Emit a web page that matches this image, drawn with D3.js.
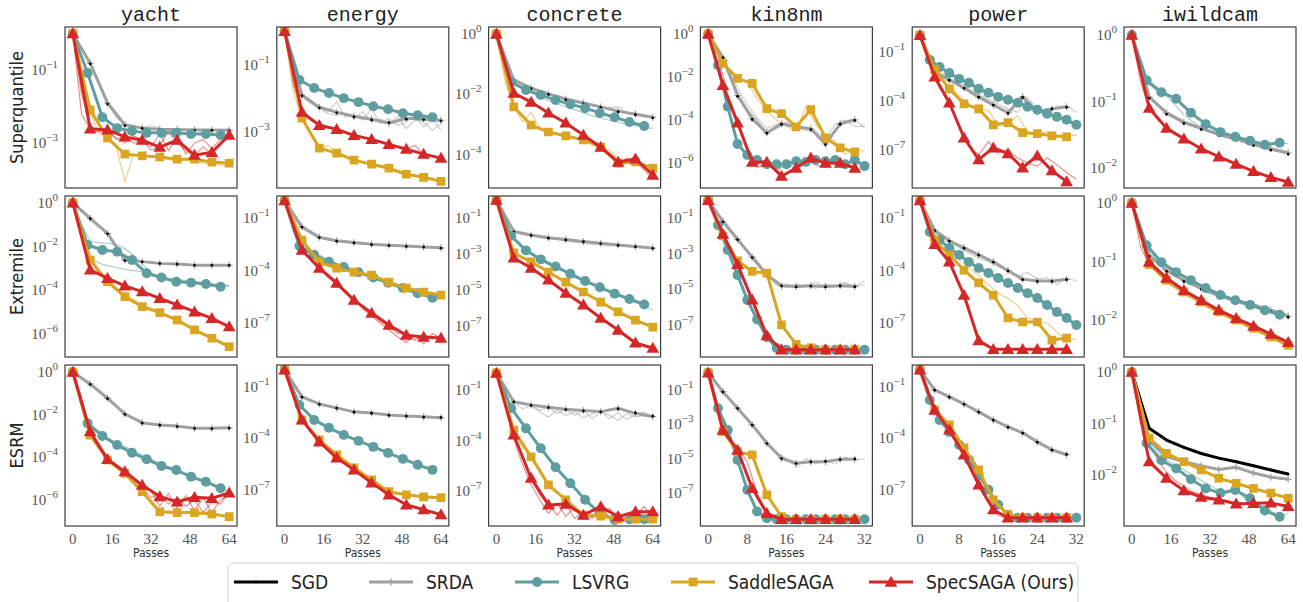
<!DOCTYPE html>
<html>
<head>
<meta charset="utf-8">
<script src="https://cdn.jsdelivr.net/npm/d3@7"></script>
<style>
  body { margin: 0; background: #fff; }
  svg { display: block; }
</style>
</head>
<body>
<svg id="chart" width="1303" height="602"></svg>
<script>
// --- Datos ---
const datasets = ['yacht', 'energy', 'concrete', 'kin8nm', 'power', 'iwildcam'];
const objectives = ['Superquantile', 'Extremile', 'ESRM'];
const methodNames = ['SGD', 'SRDA', 'LSVRG', 'SaddleSAGA', 'SpecSAGA (Ours)'];
const methodColors = ['#000000', '#a0a0a0', '#5f9ea0', '#daa520', '#d62728'];
const maxPasses = [64, 64, 64, 32, 32, 64];
const xTicksLong = [0, 16, 32, 48, 64];
const xTicksShort = [0, 8, 16, 24, 32];

// passes at which each method was logged (markers)
const passesLong = [0, 7.1, 14.2, 21.3, 28.4, 35.6, 42.7, 49.8, 56.9, 64];
const passesLongLsvrg = [0, 6.05, 12.1, 18.15, 24.2, 30.25, 36.3, 42.35, 48.4, 54.45, 60.5];
const passesShort = [0, 3, 6, 9, 12, 15, 18, 21, 24, 27, 30];
const passesShortLsvrg = [0, 2, 4, 6, 8, 10, 12, 14, 16, 18, 20, 22, 24, 26, 28, 30, 32];
// passes of the individual seed runs (thin lines)
const passesSeedLong = [0, 3.55, 7.1, 10.65, 14.2, 17.75, 21.3, 24.85, 28.4, 32, 35.6, 39.15, 42.7, 46.25, 49.8, 53.35, 56.9, 60.45, 64];
const passesSeedShort = passesShortLsvrg;

// y axis: tick exponents and limits (log10), per objective then dataset
const yTicks = [
  [[-1, -3], [-1, -3], [0, -2, -4], [0, -2, -4, -6], [-1, -4, -7], [0, -1, -2]],
  [[0, -2, -4, -6], [-1, -4, -7], [-1, -3, -5, -7], [-1, -3, -5, -7], [-1, -4, -7], [0, -1, -2]],
  [[0, -2, -4, -6], [-1, -4, -7], [-1, -4, -7], [-1, -3, -5, -7], [-1, -4, -7], [0, -1, -2]]
];
const yLimits = [
  [[-4.23, 0.18], [-4.67, 0.13], [-5.09, 0.23], [-7.17, 0.33], [-9.33, 0.51], [-2.3, 0.12]],
  [[-7.05, 0.31], [-8.94, 0.26], [-8.72, 0.22], [-8.81, 0.24], [-8.94, 0.26], [-2.63, 0.12]],
  [[-7.23, 0.33], [-9.1, 0.28], [-9.05, 0.48], [-8.91, 0.45], [-9.1, 0.28], [-2.99, 0.14]]
];

// log10 of the suboptimality, one list per dataset (averaged runs)
// Superquantile
const sqSRDA = [
  [0, -0.81, -1.9, -2.5, -2.59, -2.62, -2.63, -2.64, -2.64, -2.65],
  [0, -1.9, -2.26, -2.41, -2.53, -2.62, -2.74, -2.59, -2.62, -2.65],
  [0, -1.52, -1.79, -1.98, -2.15, -2.28, -2.41, -2.55, -2.65, -2.75],
  [0, -1.08, -2.86, -3.94, -4.6, -4.18, -4.32, -4.41, -5.12, -4.18, -3.99],
  [0, -2.23, -2.72, -3.21, -3.76, -4.25, -4.73, -3.76, -4.67, -4.49, -4.37],
  [0, -0.93, -1.17, -1.31, -1.4, -1.49, -1.56, -1.64, -1.71, -1.77]
];
const sqSGD = [
  [0, -0.83, -1.93, -2.52, -2.6, -2.63, -2.63, -2.65, -2.65, -2.66],
  [0, -1.92, -2.28, -2.43, -2.55, -2.64, -2.72, -2.62, -2.63, -2.67],
  [0, -1.54, -1.81, -2.0, -2.17, -2.3, -2.43, -2.57, -2.67, -2.77],
  [0, -1.1, -2.9, -3.98, -4.62, -4.2, -4.34, -4.45, -5.15, -4.2, -4.02],
  [0, -2.25, -2.74, -3.24, -3.78, -4.27, -4.76, -3.8, -4.7, -4.5, -4.4],
  [0, -0.95, -1.19, -1.33, -1.42, -1.51, -1.58, -1.66, -1.73, -1.79]
];
const sqLSVRG = [
  [0, -1.08, -2.29, -2.59, -2.67, -2.72, -2.72, -2.72, -2.75, -2.75, -2.78],
  [0, -1.45, -1.69, -1.84, -1.99, -2.11, -2.23, -2.32, -2.44, -2.5, -2.56],
  [0, -1.59, -1.85, -2.02, -2.18, -2.32, -2.45, -2.61, -2.75, -2.91, -3.04],
  [0, -1.45, -3.38, -5.12, -5.63, -5.87, -6.06, -6.06, -6.06, -5.92, -5.96, -5.87, -5.92, -5.87, -6.06, -5.87, -6.15],
  [0, -1.5, -1.93, -2.3, -2.66, -2.9, -3.27, -3.51, -3.76, -3.94, -4.12, -4.37, -4.55, -4.79, -4.98, -5.16, -5.47],
  [0, -0.68, -0.86, -0.96, -1.17, -1.34, -1.46, -1.53, -1.59, -1.65, -1.62]
];
const sqSaddle = [
  [0, -2.09, -2.86, -3.3, -3.35, -3.38, -3.44, -3.44, -3.52, -3.55],
  [0, -2.59, -3.48, -3.63, -3.84, -3.96, -4.08, -4.26, -4.35, -4.47],
  [0, -2.41, -3.01, -3.24, -3.37, -3.5, -3.74, -4.27, -4.23, -4.43],
  [0, -1.36, -2.06, -2.3, -3.47, -3.71, -4.32, -3.52, -4.83, -5.3, -5.49],
  [0, -2.11, -3.27, -4.19, -4.49, -5.47, -5.34, -5.95, -6.01, -6.14, -6.2],
  null
];
const sqSpec = [
  [0, -2.61, -2.64, -2.83, -2.92, -3.11, -2.92, -3.33, -3.25, -2.78],
  [0, -2.41, -2.8, -2.92, -3.1, -3.22, -3.37, -3.51, -3.66, -3.78],
  [0, -1.95, -2.25, -2.61, -2.94, -3.34, -3.74, -4.23, -4.13, -4.66],
  [0, -2.39, -4.13, -5.96, -5.96, -6.62, -6.24, -5.77, -6.01, -6.01, -6.24],
  [0, -2.54, -4.12, -6.26, -7.6, -6.87, -7.23, -8.09, -7.36, -8.27, -8.94],
  [0, -1.1, -1.4, -1.56, -1.71, -1.83, -1.94, -2.05, -2.14, -2.21]
];

// Extremile
const exSRDA = [
  [0, -0.71, -1.4, -2.62, -2.69, -2.77, -2.8, -2.85, -2.85, -2.85],
  [0, -1.5, -2.1, -2.3, -2.4, -2.5, -2.55, -2.6, -2.65, -2.7],
  [0, -1.75, -1.95, -2.1, -2.2, -2.3, -2.4, -2.5, -2.58, -2.67],
  [0, -1.2, -2.2, -3.2, -4.2, -4.8, -4.85, -4.8, -4.85, -4.8, -4.85],
  [0, -1.7, -2.3, -2.7, -3.1, -3.5, -4.0, -4.5, -4.6, -4.6, -4.5],
  [0, -0.89, -1.15, -1.32, -1.45, -1.57, -1.66, -1.74, -1.83, -1.93]
];
const exSGD = [
  [0, -0.73, -1.42, -2.64, -2.7, -2.78, -2.81, -2.86, -2.86, -2.86],
  [0, -1.52, -2.12, -2.32, -2.42, -2.52, -2.57, -2.62, -2.66, -2.72],
  [0, -1.77, -1.97, -2.12, -2.22, -2.32, -2.42, -2.52, -2.6, -2.69],
  [0, -1.22, -2.22, -3.22, -4.22, -4.82, -4.87, -4.83, -4.87, -4.82, -4.86],
  [0, -1.72, -2.32, -2.72, -3.12, -3.52, -4.02, -4.52, -4.62, -4.62, -4.52],
  [0, -0.91, -1.17, -1.34, -1.47, -1.59, -1.68, -1.76, -1.85, -1.95]
];
const exLSVRG = [
  [0, -1.93, -2.16, -2.24, -2.62, -3.22, -3.42, -3.61, -3.65, -3.71, -3.84],
  [0, -2.6, -3.1, -3.5, -3.8, -4.1, -4.4, -4.7, -5.0, -5.3, -5.55],
  [0, -2.0, -2.8, -3.3, -3.7, -4.1, -4.5, -4.85, -5.2, -5.5, -5.8],
  [0, -1.4, -2.8, -4.2, -5.6, -6.7, -7.7, -8.3, -8.4, -8.4, -8.4, -8.4, -8.4, -8.4, -8.4, -8.4, -8.4],
  [0, -1.8, -2.26, -2.71, -3.11, -3.51, -3.86, -4.14, -4.43, -4.71, -5.0, -5.29, -5.57, -5.97, -6.37, -6.71, -7.11],
  [0, -0.72, -1.01, -1.18, -1.32, -1.45, -1.57, -1.66, -1.74, -1.83, -1.91]
];
const exSaddle = [
  [0, -2.62, -3.61, -4.29, -4.75, -5.02, -5.36, -5.81, -6.19, -6.58],
  [0, -2.26, -3.51, -3.86, -4.09, -4.26, -4.66, -5.0, -5.23, -5.4],
  [0, -2.94, -3.44, -4.0, -4.56, -5.11, -5.67, -6.22, -6.67, -7.06],
  [0, -2.0, -3.4, -4.0, -4.1, -7.0, -8.1, -8.3, -8.4, -8.4, -8.4],
  [0, -2.26, -3.11, -3.97, -4.71, -5.4, -6.71, -6.94, -6.94, -7.97, -7.86],
  [0, -1.05, -1.32, -1.52, -1.69, -1.86, -2.0, -2.14, -2.29, -2.43]
];
const exSpec = [
  [0, -3.07, -3.45, -3.8, -4.06, -4.37, -4.67, -4.98, -5.28, -5.66],
  [0, -2.83, -3.86, -4.71, -5.69, -6.43, -7.11, -7.69, -7.8, -7.86],
  [0, -3.22, -3.78, -4.44, -5.17, -5.83, -6.56, -7.22, -7.94, -8.22],
  [0, -1.9, -3.6, -5.6, -7.6, -8.4, -8.4, -8.4, -8.4, -8.4, -8.4],
  [0, -2.5, -3.5, -5.4, -8.0, -8.5, -8.5, -8.5, -8.5, -8.5, -8.5],
  [0, -1.01, -1.28, -1.49, -1.66, -1.83, -1.97, -2.1, -2.24, -2.38]
];

// ESRM
const esSRDA = [
  [0, -0.56, -1.23, -1.97, -2.38, -2.49, -2.54, -2.64, -2.64, -2.62],
  [0, -1.58, -1.99, -2.22, -2.45, -2.51, -2.63, -2.69, -2.74, -2.8],
  [0, -1.69, -1.89, -2.02, -2.14, -2.22, -2.28, -2.08, -2.38, -2.58],
  [0, -1.1, -2.06, -3.03, -4.1, -4.97, -5.26, -5.17, -5.17, -5.03, -5.03],
  [0, -1.17, -1.58, -1.99, -2.45, -2.92, -3.33, -3.67, -4.2, -4.66, -4.95],
  [0, -1.32, -1.64, -1.74, -1.82, -1.89, -1.85, -1.96, -2.04, -2.08]
];
const esSGD = [
  [0, -0.58, -1.25, -1.99, -2.4, -2.5, -2.56, -2.65, -2.66, -2.63],
  [0, -1.6, -2.01, -2.24, -2.47, -2.53, -2.65, -2.7, -2.76, -2.78],
  [0, -1.71, -1.91, -2.04, -2.16, -2.24, -2.3, -2.12, -2.36, -2.55],
  [0, -1.12, -2.08, -3.05, -4.12, -4.99, -5.28, -5.19, -5.15, -5.05, -5.01],
  [0, -1.19, -1.6, -2.01, -2.47, -2.94, -3.35, -3.69, -4.22, -4.68, -4.93],
  [0, -1.09, -1.32, -1.46, -1.58, -1.67, -1.74, -1.82, -1.9, -1.98]
];
const esLSVRG = [
  [0, -2.41, -3.0, -3.43, -3.79, -4.1, -4.41, -4.6, -4.92, -5.15, -5.46],
  [0, -2.05, -2.92, -3.38, -3.79, -4.14, -4.49, -4.84, -5.19, -5.53, -5.83],
  [0, -2.08, -3.27, -4.45, -5.57, -6.52, -7.5, -8.3, -8.69, -8.65, -8.65],
  [0, -2.06, -3.33, -5.07, -6.81, -8.07, -8.46, -8.52, -8.52, -8.52, -8.52, -8.52, -8.52, -8.52, -8.52, -8.52, -8.52],
  [0, -1.76, -2.92, -3.62, -4.37, -5.24, -6.12, -6.99, -7.86, -8.44, -8.62, -8.62, -8.62, -8.62, -8.62, -8.62, -8.62],
  [0, -1.38, -1.71, -1.87, -2.08, -2.26, -2.35, -2.29, -2.45, -2.69, -2.81]
];
const esSaddle = [
  [0, -2.96, -4.13, -4.76, -5.62, -6.56, -6.6, -6.6, -6.67, -6.79],
  [0, -2.92, -4.08, -4.95, -5.71, -6.41, -7.1, -7.28, -7.4, -7.45],
  [0, -3.37, -4.95, -6.62, -7.51, -8.4, -8.46, -8.65, -8.65, -8.65],
  [0, -3.42, -4.59, -4.78, -7.1, -8.37, -8.52, -8.52, -8.52, -8.52, -8.52],
  [0, -2.34, -3.21, -4.55, -5.83, -7.57, -8.44, -8.62, -8.62, -8.62, -8.62],
  [0, -1.28, -1.58, -1.74, -1.9, -2.06, -2.16, -2.26, -2.35, -2.45]
];
const esSpec = [
  [0, -2.8, -4.1, -4.68, -5.31, -5.85, -6.09, -5.88, -5.93, -5.67],
  [0, -2.92, -4.2, -5.13, -5.83, -6.58, -7.28, -7.86, -8.15, -8.44],
  [0, -3.66, -6.22, -7.8, -7.75, -8.4, -7.9, -8.5, -8.2, -8.2],
  [0, -3.33, -4.49, -6.72, -8.17, -8.52, -8.52, -8.52, -8.52, -8.52, -8.52],
  [0, -2.34, -3.5, -4.95, -6.7, -8.15, -8.62, -8.62, -8.62, -8.62, -8.62],
  [0, -1.74, -2.06, -2.3, -2.43, -2.48, -2.56, -2.55, -2.54, -2.61]
];

// individual seed runs: [dataset, method, log10 values]
const sqSeeds = [
  [0, 1, [0, -0.4, -0.8, -1.35, -1.9, -2.3, -2.5, -2.55, -2.58, -2.52, -2.6, -2.62, -2.6, -2.64, -2.6, -2.65, -2.63, -2.65, -2.6]],
  [0, 3, [0, -1.7, -2.2, -2.7, -2.9, -3.1, -4.05, -3.3, -3.35, -3.35, -3.4, -3.45, -3.5, -3.45, -3.5, -3.55, -3.55, -3.6, -3.65]],
  [0, 4, [0, -1.6, -2.6, -2.7, -2.65, -2.9, -2.8, -3.0, -2.95, -3.1, -2.75, -3.2, -2.85, -3.3, -3.0, -2.9, -3.15, -2.9, -2.8]],
  [0, 4, [0, -2.2, -2.62, -2.6, -2.7, -2.85, -3.0, -2.8, -2.9, -3.2, -3.05, -2.7, -3.0, -3.2, -3.35, -3.1, -3.3, -3.0, -2.75]],
  [1, 1, [0, -1.4, -1.85, -2.1, -2.25, -2.4, -2.1, -2.55, -2.5, -2.65, -2.3, -2.75, -2.6, -2.8, -2.7, -2.5, -2.85, -2.6, -2.95]],
  [1, 1, [0, -1.5, -1.95, -2.15, -2.3, -2.45, -2.5, -2.45, -2.6, -2.4, -2.7, -2.6, -2.75, -2.55, -2.9, -2.65, -2.7, -2.95, -2.75]],
  [1, 3, [0, -1.8, -2.6, -3.1, -3.5, -3.4, -3.6, -3.7, -3.85, -3.9, -3.95, -4.05, -4.1, -4.2, -4.25, -4.3, -4.35, -4.4, -4.45]],
  [1, 4, [0, -1.6, -2.4, -2.65, -2.8, -2.85, -2.93, -3.0, -3.1, -3.15, -3.22, -3.3, -3.37, -3.45, -3.5, -3.4, -3.66, -3.7, -3.8]],
  [2, 1, [0, -1.1, -1.52, -1.7, -1.8, -1.9, -1.98, -2.08, -2.15, -2.22, -2.28, -2.35, -2.4, -2.45, -2.4, -2.6, -2.62, -2.7, -2.8]],
  [2, 2, [0, -1.2, -1.6, -1.8, -1.95, -2.1, -2.2, -2.32, -2.4, -2.5, -2.6, -2.7, -2.78, -2.85, -2.92, -2.98, -3.03, -3.08, -3.12]],
  [2, 3, [0, -1.6, -2.4, -2.9, -2.6, -3.1, -3.2, -3.3, -3.35, -3.4, -3.5, -3.6, -3.7, -3.85, -4.1, -4.25, -4.2, -4.3, -4.4]],
  [2, 4, [0, -1.2, -1.95, -2.1, -2.25, -2.45, -2.6, -2.8, -2.95, -3.15, -3.35, -3.55, -3.75, -4.0, -4.3, -4.1, -4.2, -4.5, -4.8]],
  [3, 1, [0, -0.8, -1.6, -2.5, -3.3, -3.9, -4.4, -4.2, -4.1, -4.4, -4.4, -4.5, -4.9, -4.2, -4.0, -4.3, -4.3]],
  [3, 1, [0, -0.9, -1.8, -2.7, -3.5, -4.0, -4.6, -4.4, -4.2, -4.3, -4.5, -4.6, -5.0, -4.5, -4.1, -4.0, -4.35]],
  [3, 3, [0, -0.9, -1.7, -2.1, -2.25, -3.0, -3.6, -4.0, -4.3, -4.5, -3.4, -4.2, -4.7, -5.0, -5.6, -5.4, -5.45]],
  [3, 4, [0, -1.0, -2.8, -4.0, -5.4, -6.2, -6.0, -6.4, -6.0, -6.3, -5.8, -6.1, -6.2, -5.9, -6.1, -6.3, -6.3]],
  [4, 1, [0, -1.6, -2.3, -2.7, -3.0, -3.3, -3.6, -3.9, -4.2, -4.5, -4.7, -3.8, -4.5, -4.7, -4.4, -4.3, -4.7]],
  [4, 3, [0, -1.3, -2.0, -3.0, -3.7, -4.2, -4.5, -4.6, -5.5, -5.4, -4.9, -5.9, -6.0, -5.9, -6.1, -6.2, -6.1]],
  [4, 4, [0, -1.8, -3.2, -4.2, -5.5, -6.8, -7.3, -6.5, -7.2, -7.0, -7.5, -7.8, -8.0, -7.5, -7.9, -8.4, -8.8]],
  [5, 2, [0, -0.55, -0.75, -0.85, -0.92, -1.05, -1.2, -1.3, -1.4, -1.46, -1.5, -1.54, -1.57, -1.6, -1.62, -1.64, -1.64, -1.63, -1.63]],
  [5, 4, [0, -0.7, -1.1, -1.28, -1.4, -1.5, -1.56, -1.63, -1.71, -1.77, -1.83, -1.88, -1.94, -2.0, -2.05, -2.1, -2.14, -2.18, -2.21]]
];
const exSeeds = [
  [0, 2, [0, -1.0, -1.75, -1.82, -1.85, -1.9, -2.1, -2.4, -2.8, -3.2, -3.4, -3.5, -3.55, -3.6, -3.65, -3.7, -3.75, -3.78, -3.8]],
  [0, 2, [0, -1.5, -2.5, -2.75, -2.88, -2.95, -3.05, -3.1, -3.15, -3.25, -3.35, -3.45, -3.5, -3.55, -3.6, -3.65, -3.7, -3.75, -3.8]],
  [0, 3, [0, -1.5, -2.3, -3.1, -3.4, -3.9, -4.2, -4.4, -4.7, -4.8, -5.0, -5.2, -5.35, -5.6, -5.8, -6.0, -6.2, -6.4, -6.65]],
  [0, 4, [0, -1.2, -2.6, -3.2, -3.4, -3.6, -3.8, -3.95, -4.1, -4.25, -4.4, -4.55, -4.7, -4.85, -5.0, -5.15, -5.3, -5.5, -5.7]],
  [1, 1, [0, -1.0, -1.6, -1.9, -2.15, -2.25, -2.35, -2.4, -2.45, -2.5, -2.45, -2.55, -2.6, -2.55, -2.65, -2.6, -2.7, -2.65, -2.75]],
  [1, 2, [0, -1.8, -2.6, -2.9, -3.1, -3.4, -3.6, -3.8, -4.0, -4.2, -4.3, -4.5, -4.7, -4.8, -5.0, -5.1, -5.2, -5.3, -5.5]],
  [1, 4, [0, -1.6, -2.8, -3.4, -3.9, -4.3, -4.7, -5.2, -5.7, -6.1, -6.5, -6.9, -7.2, -7.6, -7.5, -8.0, -7.6, -7.9, -7.7]],
  [1, 4, [0, -1.7, -2.9, -3.3, -3.8, -4.4, -4.8, -5.3, -5.6, -6.2, -6.6, -7.0, -7.4, -7.8, -8.1, -7.7, -8.2, -7.6, -7.9]],
  [2, 1, [0, -1.2, -1.8, -1.9, -2.0, -2.1, -2.15, -2.2, -2.3, -2.35, -2.4, -2.45, -2.5, -2.55, -2.5, -2.6, -2.62, -2.66, -2.7]],
  [2, 2, [0, -1.4, -2.1, -2.7, -3.0, -3.3, -3.6, -3.8, -4.0, -4.3, -4.5, -4.7, -4.9, -5.1, -5.3, -5.5, -5.7, -5.9, -6.1]],
  [3, 1, [0, -0.8, -1.5, -2.2, -2.9, -3.5, -4.2, -4.7, -4.9, -4.7, -4.85, -4.6, -4.9, -4.8, -4.7, -4.8, -4.75]],
  [3, 1, [0, -0.7, -1.4, -2.1, -2.8, -3.4, -4.1, -4.8, -4.7, -4.9, -4.75, -4.95, -4.7, -4.85, -4.6, -4.9, -4.5]],
  [3, 4, [0, -1.2, -2.4, -3.6, -5.0, -6.3, -7.5, -8.2, -8.4, -8.4, -8.4, -8.4, -8.4, -8.4, -8.4, -8.4, -8.4]],
  [4, 1, [0, -1.3, -1.9, -2.3, -2.7, -3.0, -3.3, -3.5, -3.8, -4.0, -4.3, -4.1, -4.5, -4.4, -4.8, -4.4, -4.6]],
  [4, 3, [0, -1.4, -2.2, -2.8, -3.3, -3.8, -4.3, -4.8, -5.3, -5.6, -6.0, -6.7, -6.9, -7.0, -7.5, -8.0, -7.9]],
  [5, 2, [0, -0.6, -0.8, -0.98, -1.1, -1.22, -1.32, -1.4, -1.48, -1.55, -1.6, -1.65, -1.7, -1.74, -1.78, -1.82, -1.86, -1.9, -1.93]],
  [5, 4, [0, -0.75, -1.05, -1.2, -1.35, -1.45, -1.55, -1.63, -1.72, -1.8, -1.88, -1.95, -2.02, -2.09, -2.16, -2.22, -2.28, -2.33, -2.38]]
];
const esSeeds = [
  [0, 1, [0, -0.3, -0.6, -0.9, -1.25, -1.6, -1.95, -2.2, -2.38, -2.45, -2.5, -2.52, -2.55, -2.6, -2.62, -2.64, -2.64, -2.63, -2.62]],
  [0, 2, [0, -1.5, -2.5, -2.8, -3.1, -3.3, -3.5, -3.7, -3.9, -4.1, -4.3, -4.45, -4.6, -4.8, -4.95, -5.1, -5.25, -5.45, -5.62]],
  [0, 4, [0, -1.5, -2.8, -3.4, -4.1, -4.4, -4.7, -5.0, -5.3, -5.6, -6.3, -5.7, -6.4, -5.8, -6.5, -5.9, -6.6, -6.0, -5.8]],
  [0, 4, [0, -1.6, -2.9, -3.5, -4.0, -4.5, -4.8, -5.1, -5.4, -5.9, -5.7, -6.2, -5.9, -6.3, -6.0, -6.6, -6.1, -6.2, -5.6]],
  [0, 3, [0, -1.6, -3.0, -3.6, -4.1, -4.5, -4.8, -5.2, -5.6, -6.2, -6.6, -6.6, -6.65, -6.6, -6.7, -6.65, -6.7, -6.75, -6.8]],
  [1, 1, [0, -1.0, -1.58, -1.85, -1.99, -2.15, -2.22, -2.35, -2.45, -2.5, -2.51, -2.6, -2.63, -2.66, -2.69, -2.72, -2.74, -2.77, -2.8]],
  [1, 4, [0, -1.6, -2.92, -3.6, -4.2, -4.7, -5.13, -5.5, -5.83, -6.2, -6.58, -6.9, -7.28, -7.6, -7.86, -8.0, -8.15, -8.3, -8.44]],
  [2, 1, [0, -1.0, -1.69, -1.8, -1.89, -2.2, -2.02, -2.4, -2.14, -2.5, -2.22, -2.7, -2.28, -2.5, -2.8, -2.4, -2.6, -2.5, -2.5]],
  [2, 1, [0, -1.1, -1.75, -2.1, -1.95, -2.3, -2.6, -2.2, -2.5, -2.3, -2.65, -2.4, -2.2, -2.7, -2.35, -2.75, -2.45, -2.3, -2.6]],
  [2, 3, [0, -1.8, -3.37, -4.4, -4.95, -5.6, -6.62, -7.1, -7.51, -8.0, -8.4, -8.5, -8.46, -8.6, -8.65, -8.65, -8.65, -8.65, -8.65]],
  [2, 4, [0, -1.8, -3.66, -5.0, -6.22, -7.2, -7.8, -8.4, -7.75, -8.6, -8.2, -8.6, -7.9, -8.5, -8.2, -8.7, -8.0, -8.5, -8.1]],
  [2, 4, [0, -2.0, -3.9, -5.4, -6.6, -7.5, -8.3, -7.7, -8.5, -7.9, -8.6, -8.1, -8.5, -8.0, -8.6, -8.3, -8.4, -7.9, -8.5]],
  [3, 1, [0, -0.7, -1.4, -2.0, -2.7, -3.3, -4.0, -4.6, -5.0, -5.5, -5.0, -5.3, -5.1, -5.3, -4.9, -5.1, -5.0]],
  [3, 4, [0, -2.4, -3.8, -4.3, -5.2, -7.0, -8.1, -8.5, -8.52, -8.52, -8.52, -8.52, -8.52, -8.52, -8.52, -8.52, -8.52]],
  [4, 4, [0, -1.7, -2.8, -3.4, -4.3, -5.3, -6.5, -7.6, -8.5, -8.62, -8.62, -8.62, -8.62, -8.62, -8.62, -8.62, -8.62]],
  [5, 2, [0, -1.0, -1.35, -1.55, -1.7, -1.8, -1.9, -2.0, -2.1, -2.2, -2.3, -2.35, -2.3, -2.45, -2.5, -2.6, -2.7, -2.8, -2.75]],
  [5, 4, [0, -0.9, -1.4, -1.7, -1.95, -2.1, -2.22, -2.32, -2.38, -2.43, -2.46, -2.5, -2.53, -2.55, -2.55, -2.54, -2.55, -2.58, -2.6]]
];

const series = [
  [sqSGD, sqSRDA, sqLSVRG, sqSaddle, sqSpec],
  [exSGD, exSRDA, exLSVRG, exSaddle, exSpec],
  [esSGD, esSRDA, esLSVRG, esSaddle, esSpec]
];
const seedRuns = [sqSeeds, exSeeds, esSeeds];

// --- Layout ---
const svg = d3.select('#chart');
const panelW = 172, panelH = 161;
const panelLeft = c => 65 + c * 211.8;
const panelTop = r => 27 + r * 169;
const sans = '"DejaVu Sans Condensed", "DejaVu Sans", sans-serif';
const serif = '"Liberation Serif", "DejaVu Serif", serif';
const mono = '"Liberation Mono", "DejaVu Sans Mono", monospace';

// ESRM iwildcam: SGD se ve separado y grueso
function sgdIsVisible(r, c) { return r === 2 && c === 5; }

function xsFor(m, c) {
  const short = maxPasses[c] === 32;
  if (m === 2) return short ? passesShortLsvrg : passesLongLsvrg;
  return short ? passesShort : passesLong;
}

function drawMarker(sel, m, px, py) {
  const col = methodColors[m];
  if (m === 0) {
    sel.append('circle').attr('cx', px).attr('cy', py).attr('r', 1.4).attr('fill', col);
  } else if (m === 1) {
    sel.append('path')
      .attr('d', `M${px - 3.5},${py}H${px + 3.5}M${px},${py - 3.5}V${py + 3.5}`)
      .attr('stroke', col).attr('stroke-width', 1.2);
  } else {
    const type = m === 2 ? d3.symbolCircle : m === 3 ? d3.symbolSquare : d3.symbolTriangle;
    const size = m === 2 ? 78 : m === 3 ? 76 : 70;
    sel.append('path')
      .attr('d', d3.symbol().type(type).size(size)())
      .attr('transform', `translate(${px},${py + (m === 4 ? 1 : 0)})`)
      .attr('fill', col);
  }
}

objectives.forEach((obj, r) => {
  datasets.forEach((ds, c) => {
    const g = svg.append('g')
      .attr('transform', `translate(${panelLeft(c)},${panelTop(r)})`);
    const maxP = maxPasses[c];
    const x = d3.scaleLinear().domain([-0.05 * maxP, 1.05 * maxP]).range([0, panelW]);
    const [lo, hi] = yLimits[r][c];
    const y = d3.scaleLog().domain([Math.pow(10, lo), Math.pow(10, hi)]).range([panelH, 0]);

    const clipId = `clip-${r}-${c}`;
    g.append('clipPath').attr('id', clipId)
      .append('rect').attr('width', panelW).attr('height', panelH);
    const plot = g.append('g').attr('clip-path', `url(#${clipId})`);

    const line = d3.line().x(d => x(d[0])).y(d => y(d[1]));

    // corridas individuales (líneas finas)
    const seedXs = maxP === 32 ? passesSeedShort : passesSeedLong;
    seedRuns[r].filter(s => s[0] === c).forEach(([, m, vals]) => {
      plot.append('path')
        .datum(vals.map((v, i) => [seedXs[i], Math.pow(10, v)]))
        .attr('d', line)
        .attr('fill', 'none')
        .attr('stroke', methodColors[m])
        .attr('stroke-opacity', 0.55)
        .attr('stroke-width', 1.1);
    });

    const pts = series[r].map((arr, m) => {
      const vals = arr[c];
      if (!vals) return null;
      const xs = xsFor(m, c);
      return vals.map((v, i) => [xs[i], Math.pow(10, v)]);
    });

    pts.forEach((p, m) => {
      if (!p) return;
      const strong = m !== 0 || sgdIsVisible(r, c);
      plot.append('path')
        .datum(p)
        .attr('d', line)
        .attr('fill', 'none')
        .attr('stroke', methodColors[m])
        .attr('stroke-width', strong ? 3 : 0.7)
        .attr('stroke-opacity', strong ? 1 : 0.6)
        .attr('stroke-linejoin', 'round');
      if (m !== 0) {
        const mk = plot.append('g');
        p.forEach(d => drawMarker(mk, m, x(d[0]), y(d[1])));
      }
      if (m === 1 && pts[0]) {
        // puntos de SGD encima de la línea gris
        const mk = plot.append('g');
        pts[0].forEach(d => drawMarker(mk, 0, x(d[0]), y(d[1])));
      }
    });

    // marco
    g.append('rect')
      .attr('width', panelW).attr('height', panelH)
      .attr('fill', 'none').attr('stroke', '#3d3d3d').attr('stroke-width', 1.2);

    // ticks y
    yTicks[r][c].forEach(e => {
      const t = g.append('text')
        .attr('x', -7).attr('y', y(Math.pow(10, e)) + 5)
        .attr('text-anchor', 'end')
        .attr('font-family', serif).attr('font-size', 15)
        .attr('fill', '#555');
      t.append('tspan').text('10');
      t.append('tspan').attr('dy', -7).attr('font-size', 11)
        .text(e === 0 ? '0' : '\u2212' + Math.abs(e));
    });

    if (r === 2) {
      const ticks = maxP === 32 ? xTicksShort : xTicksLong;
      ticks.forEach(v => {
        g.append('text')
          .attr('x', x(v)).attr('y', panelH + 18)
          .attr('text-anchor', 'middle')
          .attr('font-family', serif).attr('font-size', 15)
          .attr('fill', '#555')
          .text(v);
      });
      g.append('text')
        .attr('x', panelW / 2).attr('y', panelH + 31)
        .attr('text-anchor', 'middle')
        .attr('font-family', sans).attr('font-size', 12)
        .attr('fill', '#333')
        .text('Passes');
    }

    if (r === 0) {
      g.append('text')
        .attr('x', panelW / 2).attr('y', -6)
        .attr('text-anchor', 'middle')
        .attr('font-family', mono).attr('font-size', 20)
        .attr('fill', '#222')
        .text(ds);
    }

    if (c === 0) {
      g.append('text')
        .attr('transform', `translate(-42,${panelH / 2}) rotate(-90)`)
        .attr('text-anchor', 'middle')
        .attr('font-family', sans).attr('font-size', 18)
        .attr('fill', '#222')
        .text(obj);
    }
  });
});

// --- Leyenda ---
const legend = svg.append('g');
legend.append('rect')
  .attr('x', 228).attr('y', 563).attr('width', 850).attr('height', 44)
  .attr('rx', 5)
  .attr('fill', '#fff').attr('stroke', '#d0d0d0').attr('stroke-width', 1);
const legendX = [234, 369, 515, 671, 869];
methodNames.forEach((name, m) => {
  const lx = legendX[m], ly = 582;
  legend.append('line')
    .attr('x1', lx).attr('x2', lx + 44).attr('y1', ly).attr('y2', ly)
    .attr('stroke', methodColors[m]).attr('stroke-width', 3);
  drawMarker(legend, m, lx + 22, ly);
  legend.append('text')
    .attr('x', lx + 57).attr('y', ly + 7)
    .attr('font-family', sans).attr('font-size', 19)
    .attr('fill', '#222')
    .text(name);
});
</script>
</body>
</html>
